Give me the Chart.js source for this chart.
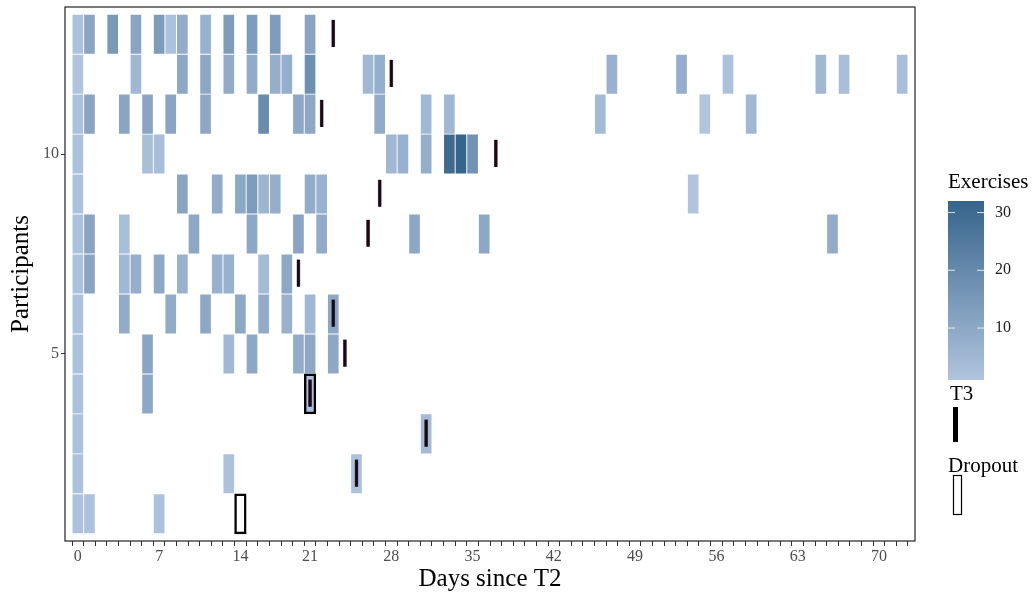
<!DOCTYPE html>
<html>
<head>
  <title>Exercises per participant since T2</title>
  <meta charset="utf-8" />
  <script src="https://cdn.jsdelivr.net/npm/chart.js@4.4.0/dist/chart.umd.min.js"></script>
  <style>
    html, body {
      margin: 0;
      padding: 0;
      background: #ffffff;
    }
    #wrap {
      width: 1036px;
      height: 594px;
    }
  </style>
</head>
<body>
  <div id="wrap"><canvas id="heat" width="1036" height="594"></canvas></div>
  <script>
    // days present on the (discrete) x axis -- day 20 has no level
    var axisDays = [0, 1, 2, 3, 4, 5, 6, 7, 8, 9, 10, 11, 12, 13, 14, 15, 16, 17, 18, 19,
      21, 22, 23, 24, 25, 26, 27, 28, 29, 30, 31, 32, 33, 34, 35, 36, 37, 38, 39, 40,
      41, 42, 43, 44, 45, 46, 47, 48, 49, 50, 51, 52, 53, 54, 55, 56, 57, 58, 59, 60,
      61, 62, 63, 64, 65, 66, 67, 68, 69, 70, 71, 72];
    var xTickDays = [0, 7, 14, 21, 28, 35, 42, 49, 56, 63, 70];
    var yTicks = [5, 10];
    var fillTicks = [10, 20, 30];

    var participants = [1, 2, 3, 4, 5, 6, 7, 8, 9, 10, 11, 12, 13];

    // days with exercises, one list per participant
    var exerciseDays = [
      [0, 1, 7],
      [0, 13, 25],
      [0, 31],
      [0, 6, 21],
      [0, 6, 13, 15, 19, 21, 23],
      [0, 4, 8, 11, 14, 16, 18, 21, 23],
      [0, 1, 4, 5, 7, 9, 12, 13, 16, 18],
      [0, 1, 4, 10, 15, 19, 22, 30, 36, 66],
      [0, 9, 12, 14, 15, 16, 17, 21, 22, 54],
      [0, 6, 7, 28, 29, 31, 33, 34, 35],
      [0, 1, 4, 6, 8, 11, 16, 19, 21, 27, 31, 33, 46, 55, 59],
      [0, 5, 9, 11, 13, 15, 17, 18, 21, 26, 27, 47, 53, 57, 65, 67, 72],
      [0, 1, 3, 5, 7, 8, 9, 11, 13, 15, 17, 21]
    ];
    // number of exercises on those days
    var exerciseCounts = [
      [2, 2, 2],
      [2, 2, 2],
      [2, 4],
      [2, 10, 2],
      [2, 11, 5, 10, 9, 10, 10],
      [2, 9, 9, 10, 10, 9, 7, 5, 10],
      [2, 11, 5, 8, 10, 7, 7, 7, 4, 10],
      [2, 11, 3, 10, 10, 11, 9, 10, 10, 9],
      [2, 11, 9, 10, 14, 6, 8, 9, 7, 1],
      [2, 3, 3, 5, 7, 8, 30, 32, 17],
      [2, 11, 11, 11, 11, 10, 19, 10, 10, 9, 5, 5, 4, 1, 5],
      [1, 5, 10, 10, 9, 9, 8, 8, 18, 5, 8, 7, 8, 2, 5, 3, 3],
      [2, 11, 15, 11, 14, 2, 9, 7, 14, 14, 14, 11]
    ];
    var t3Day = [null, 25, 31, 21, 24, 23, 19, 26, 27, 37, 22, 28, 23];
    var dropoutDay = [14, null, null, 21, null, null, null, null, null, null, null, null, null];

    // lightsteelblue -> steelblue4
    var lowCol = [176, 196, 222];
    var highCol = [54, 100, 139];
    var fillMin = 1, fillMax = 32;

    function fillColor(v) {
      var t = Math.max(0, Math.min(1, (v - fillMin) / (fillMax - fillMin)));
      var c = lowCol.map(function(lo, i) { return Math.round(lo + (highCol[i] - lo) * t); });
      return 'rgb(' + c.join(',') + ')';
    }

    var tiles = [], t3Marks = [], dropouts = [];
    participants.forEach(function(p, i) {
      exerciseDays[i].forEach(function(d, j) {
        tiles.push({ x: axisDays.indexOf(d), y: [p - 0.5, p + 0.5], n: exerciseCounts[i][j] });
      });
      if (t3Day[i] !== null) {
        t3Marks.push({ x: axisDays.indexOf(t3Day[i]), y: [p - 0.32, p + 0.36] });
      }
      if (dropoutDay[i] !== null) {
        dropouts.push({ x: axisDays.indexOf(dropoutDay[i]), y: [p - 0.5, p + 0.5] });
      }
    });

    var serif = 'Liberation Serif, Times New Roman, serif';

    // panel border + right-hand legend
    var frameAndKey = {
      id: 'frameAndKey',
      afterDraw: function(chart) {
        var g = chart.ctx, a = chart.chartArea;
        g.save();
        g.strokeStyle = '#333333';
        g.lineWidth = 1.3;
        g.strokeRect(a.left, a.top, a.right - a.left, a.bottom - a.top);

        var barX = 948, barW = 36, barTop = 201, barBottom = 380;
        var perUnit = (barBottom - barTop) / (fillMax - fillMin);
        var grad = g.createLinearGradient(0, barBottom, 0, barTop);
        grad.addColorStop(0, fillColor(fillMin));
        grad.addColorStop(1, fillColor(fillMax));
        g.fillStyle = grad;
        g.fillRect(barX, barTop, barW, barBottom - barTop);

        g.fillStyle = '#000000';
        g.font = '21px ' + serif;
        g.textAlign = 'left';
        g.textBaseline = 'alphabetic';
        g.fillText('Exercises', 948, 188);

        g.font = '16px ' + serif;
        g.textBaseline = 'middle';
        fillTicks.forEach(function(v) {
          var y = barBottom - (v - fillMin) * perUnit;
          g.strokeStyle = 'rgba(255,255,255,0.8)';
          g.lineWidth = 1;
          g.beginPath();
          g.moveTo(barX, y); g.lineTo(barX + 7, y);
          g.moveTo(barX + barW - 7, y); g.lineTo(barX + barW, y);
          g.stroke();
          g.fillStyle = '#1a1a1a';
          g.fillText(String(v), 995, y);
        });

        g.fillStyle = '#000000';
        g.font = '21px ' + serif;
        g.textBaseline = 'alphabetic';
        g.fillText('T3', 950, 400);
        g.fillRect(953, 407, 5, 35);

        g.fillText('Dropout', 948, 472);
        g.strokeStyle = '#000000';
        g.lineWidth = 1.2;
        g.strokeRect(953.5, 475.5, 8, 39);
        g.restore();
      }
    };

    var ctx = document.getElementById('heat').getContext('2d');
    var heat = new Chart(ctx, {
      type: 'bar',
      data: {
        datasets: [
          {
            label: 'Exercises',
            data: tiles,
            order: 3,
            backgroundColor: function(c) { return fillColor(c.raw.n); },
            borderColor: 'rgba(255,255,255,0.45)',
            borderWidth: 0.8
          },
          {
            label: 'Dropout',
            data: dropouts,
            order: 2,
            backgroundColor: 'rgba(0,0,0,0)',
            borderColor: '#000000',
            borderWidth: 1.8
          },
          {
            label: 'T3',
            data: t3Marks,
            order: 1,
            backgroundColor: '#0d0d1c',
            borderColor: 'rgba(130,25,25,0.7)',
            borderWidth: { left: 0.6, right: 0.6, top: 0, bottom: 0 },
            barThickness: 3.4
          }
        ]
      },
      options: {
        responsive: false,
        animation: false,
        layout: { padding: { top: 7, right: 121, left: 0, bottom: 0 } },
        datasets: {
          bar: { grouped: false, barPercentage: 1, categoryPercentage: 1, borderSkipped: false }
        },
        plugins: {
          legend: { display: false },
          tooltip: { enabled: false }
        },
        scales: {
          x: {
            type: 'linear',
            min: -0.6,
            max: axisDays.length - 1 + 0.6,
            afterBuildTicks: function(s) {
              s.ticks = axisDays.map(function(d, i) { return { value: i }; });
            },
            afterFit: function(s) { s.height = 53; },
            ticks: {
              autoSkip: false,
              maxRotation: 0,
              minRotation: 0,
              padding: 1,
              color: '#4d4d4d',
              font: { family: serif, size: 16 },
              callback: function(v) {
                var d = axisDays[v];
                return xTickDays.indexOf(d) >= 0 ? String(d) : '';
              }
            },
            grid: { drawOnChartArea: false, drawTicks: true, tickLength: 5, color: '#333333' },
            border: { display: false },
            title: {
              display: true,
              text: 'Days since T2',
              color: '#000000',
              font: { family: serif, size: 25 },
              padding: { top: 0, bottom: 0 }
            }
          },
          y: {
            type: 'linear',
            min: 0.32,
            max: 13.68,
            afterBuildTicks: function(s) {
              s.ticks = yTicks.map(function(v) { return { value: v }; });
            },
            afterFit: function(s) {
              s.width = 65;
              s.paddingTop = 0;
              s.paddingBottom = 0;
            },
            ticks: {
              padding: 2,
              color: '#4d4d4d',
              font: { family: serif, size: 16 }
            },
            grid: { drawOnChartArea: false, drawTicks: true, tickLength: 4, color: '#333333' },
            border: { display: false },
            title: {
              display: true,
              text: 'Participants',
              color: '#000000',
              font: { family: serif, size: 25 },
              padding: { top: 6, bottom: 0 }
            }
          }
        }
      },
      plugins: [frameAndKey]
    });
  </script>
</body>
</html>
